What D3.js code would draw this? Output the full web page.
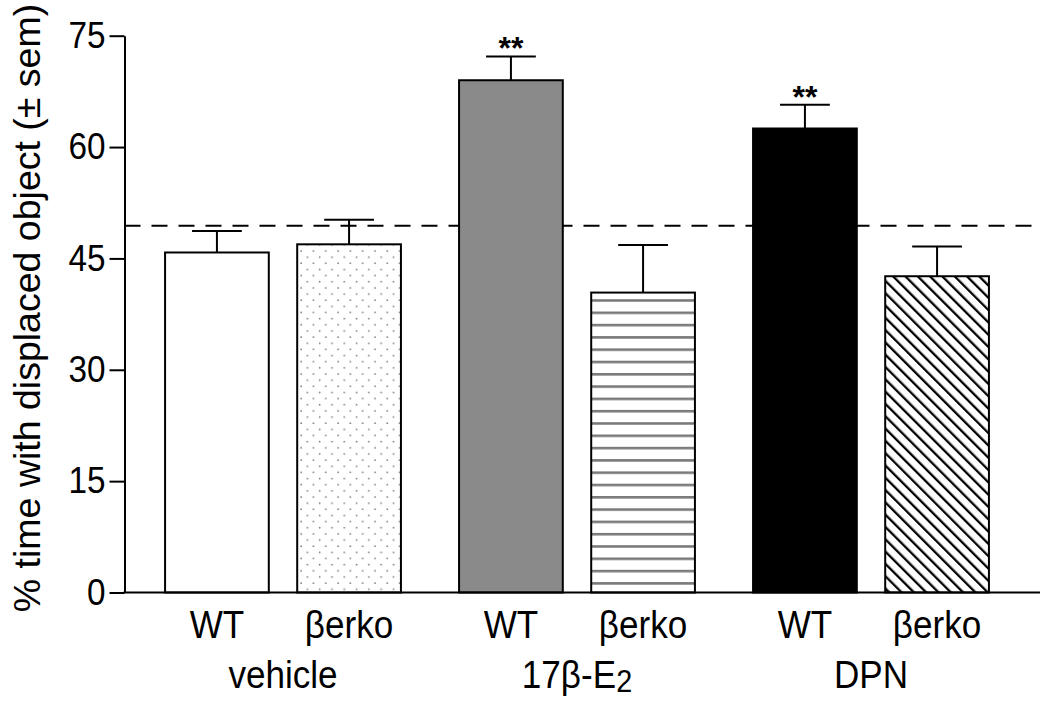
<!DOCTYPE html>
<html><head><meta charset="utf-8">
<script src="https://cdn.jsdelivr.net/npm/d3@7"></script>
<style>
body{margin:0;background:#fff}
svg{display:block}
text{font-family:"Liberation Sans",Arial,sans-serif;fill:#000}
</style>
</head><body>
<svg id="chart" width="1050" height="701"></svg>
<script>
// ---- data ----
const groups = ["vehicle", "17β-E2", "DPN"];
const genotypes = ["WT", "βerko"];
const means = [45.8, 46.9, 69.0, 40.4, 62.5, 42.6];
const sems  = [2.9, 3.3, 3.2, 6.4, 3.2, 4.0];
const significance = ["", "", "**", "", "**", ""];
const yTicks = [0, 15, 30, 45, 60, 75];
const chanceLevel = 49.4;

// ---- build rows ----
const rows = means.map((m, i) => ({
  group: groups[Math.floor(i / genotypes.length)],
  genotype: genotypes[i % genotypes.length],
  mean: m, sem: sems[i], sig: significance[i], idx: i
}));

const svg = d3.select("#chart");

const y = d3.scaleLinear().domain([0, 75]).range([592.5, 35.7]);
const xAxisStart = 124.5, xAxisEnd = 1040;
const xg = d3.scaleBand().domain(groups).range([136, 1018]).paddingInner(0).paddingOuter(0);
const xi = d3.scaleBand().domain(genotypes).range([0, xg.bandwidth()]).paddingInner(0.215).paddingOuter(0.22);
const SX = 0.9; // horizontal squeeze of lettering

// ---- patterns ----
const defs = svg.append("defs");
const dots = defs.append("pattern").attr("id", "dots").attr("patternUnits", "userSpaceOnUse")
  .attr("width", 12.3).attr("height", 12.3).attr("x", 3).attr("y", 2);
dots.append("circle").attr("cx", 3).attr("cy", 3).attr("r", 0.9).attr("fill", "#808080");
dots.append("circle").attr("cx", 9.15).attr("cy", 9.15).attr("r", 0.9).attr("fill", "#808080");

const hl = defs.append("pattern").attr("id", "hlines").attr("patternUnits", "userSpaceOnUse")
  .attr("width", 10).attr("height", 12.3).attr("y", 4);
hl.append("rect").attr("x", 0).attr("y", 0).attr("width", 10).attr("height", 2.6).attr("fill", "#7a7a7a");

const dg = defs.append("pattern").attr("id", "diag").attr("patternUnits", "userSpaceOnUse")
  .attr("width", 8.7).attr("height", 8.7).attr("patternTransform", "rotate(-45)");
dg.append("rect").attr("x", 0).attr("y", 0).attr("width", 2.3).attr("height", 8.7).attr("fill", "#000");

const fillFor = i => ["#ffffff", "url(#dots)", "#8a8a8a", "url(#hlines)", "#000000", "url(#diag)"][i];

// ---- dashed reference line (behind bars) ----
svg.append("line")
  .attr("x1", xAxisStart).attr("x2", 1032)
  .attr("y1", y(chanceLevel)).attr("y2", y(chanceLevel))
  .attr("stroke", "#000").attr("stroke-width", 2)
  .attr("stroke-dasharray", "16,11");

// ---- bars ----
const barX = d => xg(d.group) + xi(d.genotype);
const bw = xi.bandwidth();

const eb = svg.append("g");
rows.forEach(d => {
  const cx = barX(d) + bw / 2;
  eb.append("line").attr("x1", cx).attr("x2", cx)
    .attr("y1", y(d.mean)).attr("y2", y(d.mean + d.sem))
    .attr("stroke", "#000").attr("stroke-width", 2);
  eb.append("line").attr("x1", cx - bw * 0.24).attr("x2", cx + bw * 0.24)
    .attr("y1", y(d.mean + d.sem)).attr("y2", y(d.mean + d.sem))
    .attr("stroke", "#000").attr("stroke-width", 2);
  if (d.sig) {
    eb.append("text").attr("x", cx).attr("y", y(d.mean + d.sem) + 3)
      .attr("text-anchor", "middle").attr("font-size", 32).attr("font-weight", "bold")
      .text(d.sig);
  }
});

svg.append("g").selectAll("rect").data(rows).join("rect")
  .attr("x", d => barX(d)).attr("width", bw)
  .attr("y", d => y(d.mean)).attr("height", d => y(0) - y(d.mean))
  .attr("fill", d => fillFor(d.idx))
  .attr("stroke", "#000").attr("stroke-width", 2);

// ---- axes ----
const yAxis = d3.axisLeft(y).tickValues(yTicks).tickSize(15).tickSizeOuter(0).tickPadding(6);
const gy = svg.append("g").attr("transform", `translate(${xAxisStart},0)`).call(yAxis);
gy.select(".domain").attr("stroke-width", 2);
gy.selectAll(".tick line").attr("stroke-width", 2);
gy.selectAll(".tick text").attr("font-size", 37).attr("font-family", "Liberation Sans, Arial, sans-serif")
  .attr("fill", "#000").attr("transform", `scale(${SX},1)`);

svg.append("line").attr("x1", xAxisStart - 1).attr("x2", xAxisEnd)
  .attr("y1", y(0)).attr("y2", y(0)).attr("stroke", "#000").attr("stroke-width", 2);

// ---- category labels ----
svg.append("g").selectAll("text").data(rows).join("text")
  .attr("transform", d => `translate(${barX(d) + bw / 2},638) scale(${SX},1)`)
  .attr("text-anchor", "middle").attr("font-size", 39)
  .text(d => d.genotype);

const gl = svg.append("g").selectAll("text").data(groups).join("text")
  .attr("transform", d => `translate(${xg(d) + xg.bandwidth() / 2},688) scale(${SX},1)`)
  .attr("text-anchor", "middle").attr("font-size", 39);
gl.each(function(d) {
  const t = d3.select(this);
  const m = d.match(/^(.*E)(\d)$/);
  if (m) {
    t.append("tspan").text(m[1]);
    t.append("tspan").attr("dy", 4).attr("font-size", 32).text(m[2]);
  } else t.text(d);
});

// ---- y-axis title ----
svg.append("text")
  .attr("transform", "translate(40,308) rotate(-90)")
  .attr("text-anchor", "middle").attr("font-size", 37.5)
  .text("% time with displaced object (± sem)");
</script>
</body></html>
